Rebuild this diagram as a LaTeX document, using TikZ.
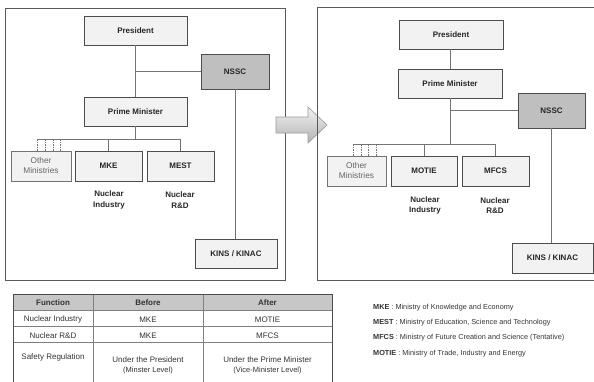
\documentclass[tikz,border=0pt]{standalone}
\usepackage{fontspec}
\setmainfont{Liberation Sans}
\usepackage{tikz}
\usetikzlibrary{positioning, arrows.meta}

\begin{document}
\begin{tikzpicture}[
    x=1pt, y=-1pt,
    box/.style={draw=black!70, fill=black!5, line width=0.8pt, inner sep=1pt,
        align=center, text=black!85, font=\bfseries\fontsize{8}{9}\selectfont},
    darkbox/.style={box, fill=black!25},
    minbox/.style={draw=black!55, fill=black!5, line width=0.8pt, inner sep=1pt,
        align=center, text=black!60, font=\fontsize{8.3}{10}\selectfont},
    lbl/.style={align=center, text=black!85, font=\bfseries\fontsize{8}{10.5}\selectfont},
    link/.style={draw=black!55, line width=0.8pt},
    tick/.style={draw=black!55, line width=0.6pt, dash pattern=on 1.5pt off 1pt},
    frame/.style={draw=black!65, line width=0.8pt},
    cell/.style={text=black!80, font=\fontsize{8}{10}\selectfont, align=center},
    head/.style={cell, font=\bfseries\fontsize{8}{10}\selectfont},
    legend/.style={anchor=west, inner sep=0pt, text=black!80, font=\fontsize{7.3}{8}\selectfont}
]
\useasboundingbox (0,0) rectangle (594,381);

% Before - left panel
\draw[frame] (5,8) rectangle (285,280);
\node[box, minimum width=103, minimum height=29] (pres) at (135.5,30.5) {President};
\node[darkbox, minimum width=68, minimum height=35] (nssc) at (235,71.5) {NSSC};
\node[box, minimum width=103, minimum height=29] (pm) at (135.5,111.5) {Prime Minister};
\node[minbox, minimum width=60, minimum height=30] (other) at (41,166) {Other\\Ministries};
\node[box, minimum width=67, minimum height=30] (mke) at (108.5,166) {MKE};
\node[box, minimum width=67, minimum height=30] (mest) at (180.5,166) {MEST};
\node[box, minimum width=82, minimum height=29] (kins) at (236,253.5) {KINS / KINAC};
\node[lbl] (ind) at (109,200) {Nuclear\\Industry};
\node[lbl] (rd) at (180,200) {Nuclear\\R\&D};
% Connectors
\coordinate (j1) at (pres.south |- nssc.west);
\coordinate (b1) at (pm.south |- 0,139);
\coordinate (e1) at (37,139);
\draw[link] (pres) -- (pm);
\draw[link] (j1) -- (nssc);
\draw[link] (pm) -- (b1);
\draw[link] (e1) -- (mest.north |- b1) -- (mest.north);
\draw[link] (mke.north |- b1) -- (mke.north);
\foreach \x in {37,45,53,60} {
    \draw[tick] (\x,139) -- (\x,0 |- other.north);
}
\draw[link] (nssc.south) -- (nssc.south |- kins.north);

% Arrow
\draw[draw=black!40, line width=0.6pt, top color=black!5, bottom color=black!30]
    (276,117) -- (308,117) -- (308,107) -- (327,125) -- (308,143) -- (308,133) -- (276,133) -- cycle;

% After - right panel
\draw[frame] (317,7) rectangle (596,280);
\node[box, minimum width=104, minimum height=29] (pres2) at (451,34.5) {President};
\node[box, minimum width=104, minimum height=29] (pm2) at (450,83.5) {Prime Minister};
\node[darkbox, minimum width=67, minimum height=35] (nssc2) at (551.5,110.5) {NSSC};
\node[minbox, minimum width=59, minimum height=30] (other2) at (356.5,171) {Other\\Ministries};
\node[box, minimum width=66, minimum height=30] (motie) at (424,171) {MOTIE};
\node[box, minimum width=67, minimum height=30] (mfcs) at (495.5,171) {MFCS};
\node[box, minimum width=81, minimum height=30] (kins2) at (552.5,258) {KINS / KINAC};
\node[lbl] (ind2) at (425,205.5) {Nuclear\\Industry};
\node[lbl] (rd2) at (495,205.5) {Nuclear\\R\&D};
% Connectors
\coordinate (j2) at (pm2.south |- nssc2.west);
\coordinate (b2) at (pm2.south |- 0,144);
\coordinate (e2) at (353,144);
\draw[link] (pres2.south -| pm2.north) -- (pm2);
\draw[link] (pm2) -- (b2);
\draw[link] (j2) -- (nssc2);
\draw[link] (e2) -- (mfcs.north |- b2) -- (mfcs.north);
\draw[link] (motie.north |- b2) -- (motie.north);
\foreach \x in {353,361,368,376} {
    \draw[tick] (\x,144) -- (\x,0 |- other2.north);
}
\draw[link] (nssc2.south) -- (nssc2.south |- kins2.north);

% Table
\fill[black!22] (13,294) rectangle (332,310);
\draw[black!50, line width=0.5pt] (13,310) -- (332,310) (13,326) -- (332,326) (13,342) -- (332,342)
    (93,294) -- (93,384) (203,294) -- (203,384);
\draw[black!70, line width=0.9pt] (13,384) -- (13,294) -- (332,294) -- (332,384);
\node[head] (hf) at (53,302.5) {Function};
\node[head] (hb) at (148,302.5) {Before};
\node[head] (ha) at (267.5,302.5) {After};
\node[cell] (f1) at (53,319.5) {Nuclear Industry};
\node[cell] (b1c) at (148,319.5) {MKE};
\node[cell] (a1c) at (267.5,319.5) {MOTIE};
\node[cell] (f2) at (53,335.5) {Nuclear R\&D};
\node[cell] (b2c) at (148,335.5) {MKE};
\node[cell] (a2c) at (267.5,335.5) {MFCS};
\node[cell] (f3) at (53,357.5) {Safety Regulation};
\node[cell] (b3c) at (148,365) {Under the President\\{\fontsize{7.5}{10}\selectfont(Minster Level)}};
\node[cell] (a3c) at (267.5,365) {Under the Prime Minister\\{\fontsize{7.5}{10}\selectfont(Vice-Minister Level)}};

% Legend
\node[legend] (l1) at (373,308) {\textbf{MKE} : Ministry of Knowledge and Economy};
\node[legend] (l2) at (373,323) {\textbf{MEST} : Ministry of Education, Science and Technology};
\node[legend] (l3) at (373,338) {\textbf{MFCS} : Ministry of Future Creation and Science (Tentative)};
\node[legend] (l4) at (373,354) {\textbf{MOTIE} : Ministry of Trade, Industry and Energy};

\end{tikzpicture}
\end{document}
